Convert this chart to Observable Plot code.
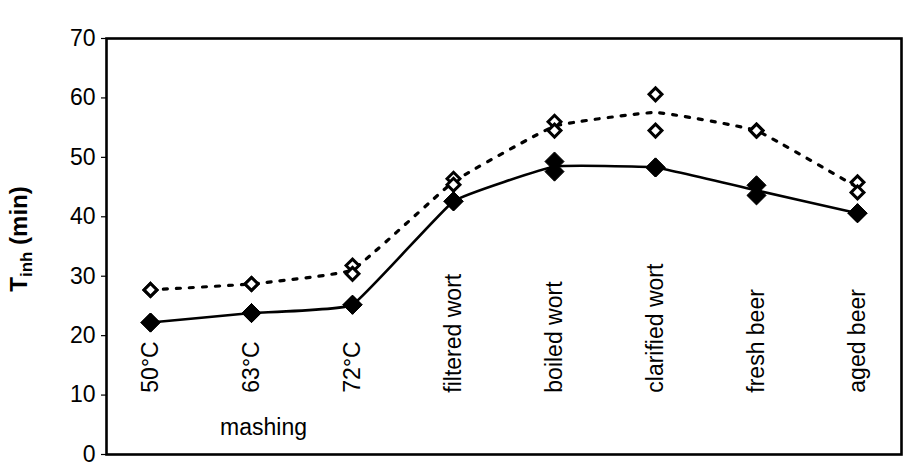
<!DOCTYPE html>
<html><head><meta charset="utf-8">
<script src="https://cdn.jsdelivr.net/npm/d3@7"></script>
<script src="https://cdn.jsdelivr.net/npm/@observablehq/plot@0.6"></script>
<style>body{margin:0;background:#fff} svg{display:block}</style>
</head><body><div id="chart"></div>
<script>
// Categories (process stages)
const categories = ["50°C","63°C","72°C","filtered wort","boiled wort","clarified wort","fresh beer","aged beer"];
// Filled diamonds (solid line), two replicates per stage
const solidRep1 = [22.2, 23.8, 25.2, 42.6, 49.3, 48.3, 45.3, 40.6];
const solidRep2 = [22.2, 23.8, 25.2, 42.6, 47.6, 48.3, 43.6, 40.6];
// Open diamonds (dotted line), two replicates per stage
const openRep1 = [27.7, 28.7, 31.8, 46.4, 56.0, 60.6, 54.5, 45.8];
const openRep2 = [27.7, 28.7, 30.4, 45.4, 54.5, 54.5, 54.5, 44.1];
const yTicks = [0, 10, 20, 30, 40, 50, 60, 70];
const groupLabel = "mashing";
const groupAt = "63°C";

const pts = (a, b) => categories.flatMap((c, i) => [{cat: c, v: a[i]}, {cat: c, v: b[i]}]);
const mean = (a, b) => categories.map((c, i) => ({cat: c, v: (a[i] + b[i]) / 2}));

const font = "Liberation Sans, Arial, Helvetica, sans-serif";
const labelY = 10.4;   // baseline of rotated stage labels (data units)
const groupY = 4.6;

const chart = Plot.plot({
  width: 904,
  height: 468,
  marginLeft: 106,
  marginRight: 3,
  marginTop: 38,
  marginBottom: 14,
  style: {fontFamily: font, fontSize: "23px", background: "white", color: "black"},
  x: {type: "point", domain: categories, padding: 0.42, axis: null},
  y: {domain: [0, 70], axis: null},
  marks: [
    Plot.axisY(yTicks, {tickSize: 5, tickPadding: 6, fontSize: 23, strokeWidth: 1.2, label: null}),
    Plot.frame({stroke: "black", strokeWidth: 2.6}),
    Plot.line(mean(openRep1, openRep2), {x: "cat", y: "v", curve: "cardinal", tension: 0.7, stroke: "black", strokeWidth: 3.2, strokeDasharray: "4,9"}),
    Plot.line(mean(solidRep1, solidRep2), {x: "cat", y: "v", curve: "cardinal", tension: 0.7, stroke: "black", strokeWidth: 2.6}),
    Plot.dot(pts(openRep1, openRep2), {x: "cat", y: "v", symbol: "diamond2", r: 5.8, fill: "white", stroke: "black", strokeWidth: 3}),
    Plot.dot(pts(solidRep1, solidRep2), {x: "cat", y: "v", symbol: "diamond2", r: 8.6, fill: "black", stroke: "black", strokeWidth: 1}),
    Plot.text(categories, {x: d => d, y: () => labelY, rotate: -90, textAnchor: "start", fontSize: 23, fill: "black"}),
    Plot.text([groupLabel], {x: () => groupAt, y: () => groupY, dx: 12, fontSize: 23, fill: "black"})
  ]
});

const svg = d3.select(chart);
const t = svg.append("text")
  .attr("transform", "translate(27,239) rotate(-90)")
  .attr("text-anchor", "middle")
  .attr("font-family", font)
  .attr("font-weight", "bold")
  .attr("font-size", 24)
  .attr("fill", "black");
t.append("tspan").text("T");
t.append("tspan").attr("font-size", 17).attr("dy", 5).text("inh");
t.append("tspan").attr("dy", -5).text(" (min)");

document.getElementById("chart").append(chart);
</script>
</body></html>
